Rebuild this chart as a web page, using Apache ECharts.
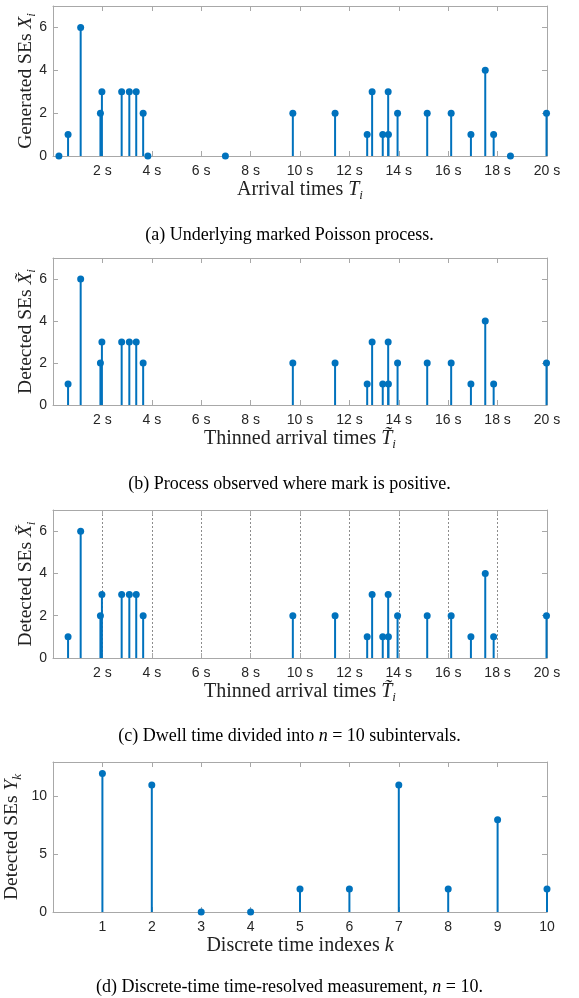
<!DOCTYPE html>
<html>
<head>
<meta charset="utf-8">
<script src="https://cdn.jsdelivr.net/npm/echarts@6/dist/echarts.min.js"></script>
<style>html,body{margin:0;padding:0;background:#fff;}#c{width:579px;height:998px;}</style>
</head>
<body>
<div id="c"></div>
<script>
// ---- data ----
const arrivalTimes = [0.24, 0.61, 1.12, 1.92, 1.98, 2.78, 3.09, 3.37, 3.65, 3.84, 6.98, 9.71, 11.42, 12.72, 12.92, 13.35, 13.57, 13.58, 13.95, 15.15, 16.12, 16.92, 17.50, 17.84, 18.52, 19.98];
const generatedSEs = [0, 1, 6, 2, 3, 3, 3, 3, 2, 0, 0, 2, 2, 1, 3, 1, 3, 1, 2, 2, 2, 1, 4, 1, 0, 2];
const timeTicks = [0, 2, 4, 6, 8, 10, 12, 14, 16, 18, 20];
const discreteIdx = [1, 2, 3, 4, 5, 6, 7, 8, 9, 10];
const detectedCounts = [12, 11, 0, 0, 2, 2, 11, 2, 8, 2];
const captions = [
  '(a) Underlying marked Poisson process.',
  '(b) Process observed where mark is positive.',
  '(c) Dwell time divided into {i|n} = 10 subintervals.',
  '(d) Discrete-time time-resolved measurement, {i|n} = 10.'
];

const pointsA = arrivalTimes.map((t, i) => [t, generatedSEs[i]]);
const pointsThin = pointsA.filter(p => p[1] > 0);
const pointsD = discreteIdx.map((k, i) => [k, detectedCounts[i]]);

const BLUE = '#0072BD';
const AX = '#a8a8a8';
const TXT = '#262626';
const SERIF = 'Liberation Serif';
const SANS = 'Liberation Sans';

const panels = [
  {top: 6, height: 150, xmax: 20, xint: 2, ymax: 7, yint: 2, unit: true, grid: false, ygap: 15,
   yname: '{t|Generated SEs }{v|X}{s|i}', xname: '{t|Arrival times }{v|T}{s|i}', data: pointsA, cap: 232},
  {top: 258, height: 147, xmax: 20, xint: 2, ymax: 7, yint: 2, unit: true, grid: false, ygap: 15,
   yname: '{t|Detected SEs }{v|X\u0303}{s|i}', xname: '{t|Thinned arrival times }{v|T\u0303}{s|i}', data: pointsThin, cap: 481},
  {top: 510, height: 148, xmax: 20, xint: 2, ymax: 7, yint: 2, unit: true, grid: true, ygap: 15,
   yname: '{t|Detected SEs }{v|X\u0303}{s|i}', xname: '{t|Thinned arrival times }{v|T\u0303}{s|i}', data: pointsThin, cap: 733},
  {top: 762, height: 150, xmax: 10, xint: 1, ymax: 13, yint: 5, unit: false, grid: false, ygap: 29,
   yname: '{t|Detected SEs }{v|Y}{s|k}', xname: '{t|Discrete time indexes }{v|k}', data: pointsD, cap: 984}
];

const rich = {
  t: {fontFamily: SERIF, fontSize: 20, color: '#222', lineHeight: 24, verticalAlign: 'middle'},
  v: {fontFamily: SERIF, fontSize: 20, fontStyle: 'italic', color: '#222', lineHeight: 24, verticalAlign: 'middle'},
  s: {fontFamily: SERIF, fontSize: 13, fontStyle: 'italic', color: '#222', lineHeight: 13, verticalAlign: 'bottom'}
};
const richY = {
  t: Object.assign({}, rich.t, {fontSize: 19.5}),
  v: Object.assign({}, rich.v, {fontSize: 19.5}),
  s: Object.assign({}, rich.s, {fontSize: 13})
};

const lineStyle = {show: true, onZero: false, lineStyle: {color: AX, width: 1}};
const tickStyle = {show: true, inside: true, length: 5, lineStyle: {color: AX}};

const grids = [], xAxes = [], yAxes = [], series = [], titles = [];
panels.forEach((p, gi) => {
  grids.push({left: 53, right: 32, top: p.top, height: p.height, show: false,
    containLabel: false, outerBoundsMode: 'none'});
  const common = {gridIndex: gi, type: 'value', min: 0, max: p.xmax, interval: p.xint};
  xAxes.push(Object.assign({}, common, {
    position: 'bottom',
    axisLine: lineStyle, axisTick: tickStyle,
    axisLabel: {color: TXT, fontFamily: SANS, fontSize: 14, margin: 8,
      formatter: v => v === 0 ? '' : (p.unit ? v + ' s' : String(v))},
    splitLine: p.grid ? {show: true, showMinLine: false, showMaxLine: false, lineStyle: {color: '#8c8c8c', type: [2, 2], width: 1}} : {show: false},
    name: p.xname, nameLocation: 'middle', nameGap: 22, nameMoveOverlap: false,
    nameTextStyle: {rich: rich}
  }));
  xAxes.push(Object.assign({}, common, {
    position: 'top',
    axisLine: lineStyle, axisTick: tickStyle,
    axisLabel: {show: false}, splitLine: {show: false}
  }));
  const yc = {gridIndex: gi, type: 'value', min: 0, max: p.ymax, interval: p.yint};
  yAxes.push(Object.assign({}, yc, {
    position: 'left',
    axisLine: lineStyle, axisTick: tickStyle,
    axisLabel: {color: TXT, fontFamily: SANS, fontSize: 14, margin: 6, showMaxLabel: false},
    splitLine: {show: false},
    name: p.yname, nameLocation: 'middle', nameRotate: 90, nameGap: p.ygap, nameMoveOverlap: false,
    nameTextStyle: {rich: richY}
  }));
  yAxes.push(Object.assign({}, yc, {
    position: 'right',
    axisLine: lineStyle, axisTick: tickStyle,
    axisLabel: {show: false}, splitLine: {show: false}
  }));
  const xi = gi * 2, yi = gi * 2;
  series.push({
    type: 'custom', xAxisIndex: xi, yAxisIndex: yi, clip: false, z: 3,
    data: p.data,
    renderItem: (params, api) => {
      const x = api.value(0), y = api.value(1);
      const a = api.coord([x, 0]), b = api.coord([x, y]);
      return {type: 'line', shape: {x1: a[0], y1: a[1], x2: b[0], y2: b[1]},
        style: {stroke: BLUE, lineWidth: 2}};
    },
    encode: {x: 0, y: 1}
  });
  series.push({
    type: 'scatter', xAxisIndex: xi, yAxisIndex: yi, clip: false, z: 4,
    data: p.data, symbol: 'circle', symbolSize: 7,
    itemStyle: {color: BLUE, opacity: 1}
  });
  titles.push({
    text: captions[gi], left: 'center', top: p.cap - 11,
    textStyle: {fontFamily: SERIF, fontSize: 18, fontWeight: 'normal', color: '#000',
      rich: {i: {fontFamily: SERIF, fontSize: 18, fontStyle: 'italic', color: '#000'}}}
  });
});

const chart = echarts.init(document.getElementById('c'), null, {renderer: 'canvas'});
chart.setOption({
  animation: false,
  backgroundColor: '#fff',
  title: titles,
  grid: grids,
  xAxis: xAxes,
  yAxis: yAxes,
  series: series
});
</script>
</body>
</html>
